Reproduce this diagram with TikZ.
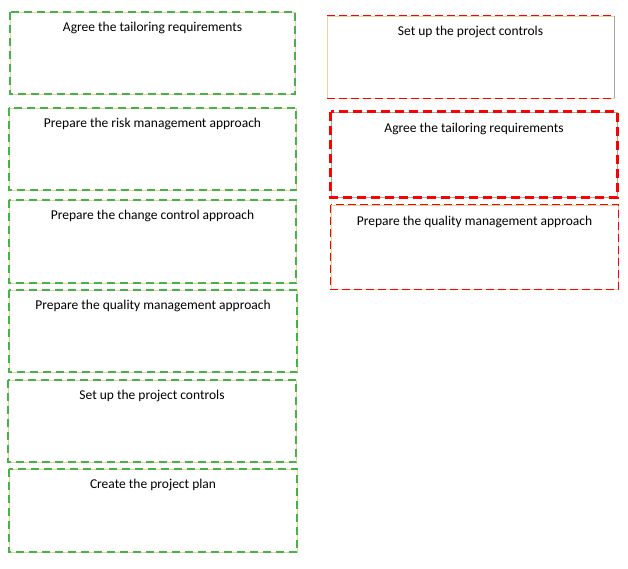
\documentclass[tikz,border=0pt]{standalone}
\usepackage{fontspec}
\setmainfont{Carlito}
\begin{document}
\begin{tikzpicture}[x=1pt,y=-1pt,
  thinbox/.style={draw=khaki, line width=0.8pt, fill=white, inner sep=0pt},
  greybox/.style={draw=greyb, line width=0.8pt, fill=white, inner sep=0pt},
  gdash/.style={draw=dgreen, line width=2pt, dash pattern=on 8pt off 5pt},
  rdash/.style={draw=red, line width=1.3pt, dash pattern=on 8pt off 4pt},
  rdashthick/.style={draw=red, line width=2.6pt, dash pattern=on 9pt off 5pt},
  txt/.style={font=\fontsize{13.5}{15}\selectfont, text=black, inner sep=0pt, anchor=north}
]
\definecolor{khaki}{RGB}{222,216,160}
\definecolor{greyb}{RGB}{165,165,165}
\definecolor{dgreen}{RGB}{72,178,72}
\useasboundingbox (0,0) rectangle (628,568);
\fill[white] (0,0) rectangle (628,568);

% left column
\node[thinbox, minimum width=285pt, minimum height=82pt] (b1) at (152.5,53) {};
\draw[gdash] (b1.north west) rectangle (b1.south east);
\node[txt] (t1) at ([yshift=-10.5pt]b1.north) {Agree the tailoring requirements};

\node[thinbox, minimum width=287pt, minimum height=82pt] (b2) at (152.5,149) {};
\draw[gdash] (b2.north west) rectangle (b2.south east);
\node[txt] (t2) at ([yshift=-10.5pt]b2.north) {Prepare the risk management approach};

\node[thinbox, minimum width=287pt, minimum height=83pt] (b3) at (152.5,241.5) {};
\draw[gdash] (b3.north west) rectangle (b3.south east);
\node[txt] (t3) at ([yshift=-10.5pt]b3.north) {Prepare the change control approach};

\node[thinbox, minimum width=288pt, minimum height=82pt] (b4) at (153,331) {};
\draw[gdash] (b4.north west) rectangle (b4.south east);
\node[txt] (t4) at ([yshift=-10.5pt]b4.north) {Prepare the quality management approach};

\node[thinbox, minimum width=288pt, minimum height=82pt] (b5) at (152,421) {};
\draw[gdash] (b5.north west) rectangle (b5.south east);
\node[txt] (t5) at ([yshift=-10.5pt]b5.north) {Set up the project controls};

\node[thinbox, minimum width=288pt, minimum height=83pt] (b6) at (153,510.5) {};
\draw[gdash] (b6.north west) rectangle (b6.south east);
\node[txt] (t6) at ([yshift=-10.5pt]b6.north) {Create the project plan};

% right column
\node[thinbox, minimum width=287pt, minimum height=82pt] (r1) at (470.5,57) {};
\draw[rdash] (r1.north west) -- (r1.north east);
\draw[rdash] (r1.south west) -- (r1.south east);
\draw[greyb, line width=0.8pt] (r1.north east) -- (r1.south east);
\node[txt] (s1) at ([yshift=-10pt]r1.north) {Set up the project controls};

\node[greybox, minimum width=286pt, minimum height=85pt] (r2) at (474,154.5) {};
\draw[rdashthick] (r2.north west) rectangle (r2.south east);
\node[txt] (s2) at ([yshift=-11.5pt]r2.north) {Agree the tailoring requirements};

\node[thinbox, minimum width=287pt, minimum height=84pt] (r3) at (474.5,247) {};
\draw[rdash] (r3.north west) rectangle (r3.south east);
\node[txt] (s3) at ([yshift=-11.5pt]r3.north) {Prepare the quality management approach};
\end{tikzpicture}
\end{document}
